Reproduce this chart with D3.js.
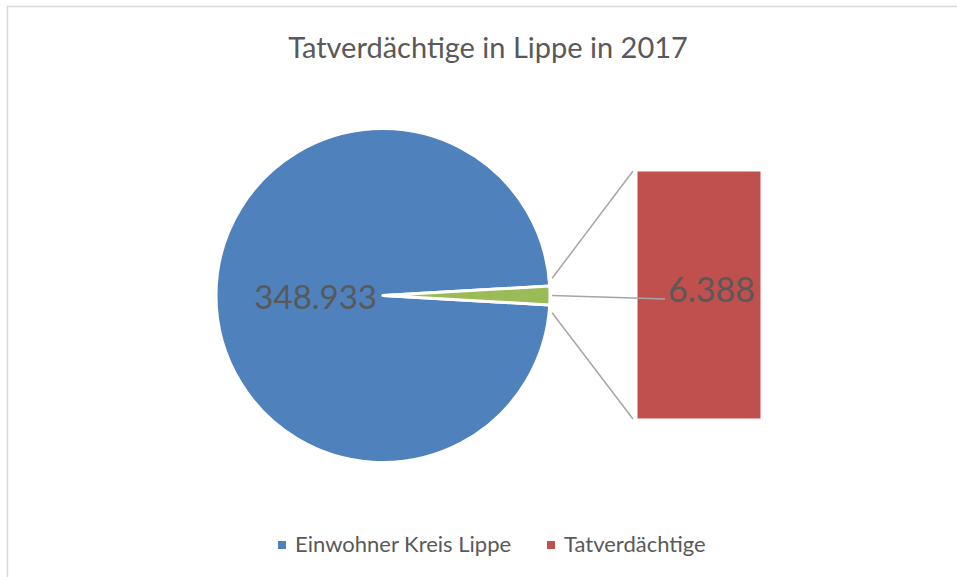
<!DOCTYPE html>
<html>
<head>
<meta charset="utf-8">
<script src="https://cdnjs.cloudflare.com/ajax/libs/d3/7.8.5/d3.min.js"></script>
<style>
    html, body { margin: 0; padding: 0; background: #fff; }
    svg { display: block; font-family: Lato, "Open Sans", sans-serif; }
</style>
</head>
<body>
<div id="chart"></div>
<script>
// data
var categories = ["Einwohner Kreis Lippe", "Tatverdächtige"];
var values = [348933, 6388];
var labels = ["348.933", "6.388"];
var title = "Tatverdächtige in Lippe in 2017";

var width = 957,
    height = 577;

var blue = "#4F81BD",
    red = "#C0504D",
    green = "#9BBB59",
    textColor = "#595959",
    lineColor = "#A6A6A6";

var svg = d3.select("#chart").append("svg")
    .attr("width", width)
    .attr("height", height);

// chart area border (runs off the right/bottom edge like the screenshot)
svg.append("rect")
    .attr("x", 7.5)
    .attr("y", 6.5)
    .attr("width", width + 20)
    .attr("height", height + 20)
    .attr("fill", "none")
    .attr("stroke", "#D9D9D9")
    .attr("stroke-width", 1.5);

svg.append("text")
    .attr("x", 488)
    .attr("y", 58)
    .attr("text-anchor", "middle")
    .style("font-size", "29px")
    .attr("fill", textColor)
    .text(title);

// primary pie: main value + "other" slice (green) centred at 3 o'clock
var cx = 383, cy = 295.5, r = 167;
var total = d3.sum(values);
var half = Math.PI * values[1] / total;

var pie = d3.pie()
    .sort(null)
    .startAngle(Math.PI / 2 + half)
    .endAngle(Math.PI / 2 + half + 2 * Math.PI);

var arcs = pie(values);
var arc = d3.arc().innerRadius(0).outerRadius(r);

var g = svg.append("g").attr("transform", "translate(" + cx + "," + cy + ")");

g.selectAll("path")
    .data(arcs)
    .enter().append("path")
    .attr("d", arc)
    .attr("fill", function (d, i) { return i == 0 ? blue : green; })
    .attr("stroke", "#fff")
    .attr("stroke-width", 3)
    .attr("stroke-linejoin", "round");

g.append("text")
    .attr("x", -6)
    .attr("y", 0)
    .attr("text-anchor", "end")
    .attr("dominant-baseline", "central")
    .style("font-size", "33px")
    .attr("fill", textColor)
    .text(labels[0]);

// secondary bar (the "other" slice broken out)
var barX = d3.scaleBand().domain([categories[1]]).range([637, 761]).padding(0);
var barY = d3.scaleLinear().domain([0, values[1]]).range([419, 171]);

svg.append("rect")
    .attr("x", barX(categories[1]))
    .attr("y", barY(values[1]))
    .attr("width", barX.bandwidth())
    .attr("height", barY(0) - barY(values[1]))
    .attr("fill", red)
    .attr("stroke", "#fff")
    .attr("stroke-width", 1);

// connector lines from the green slice to the bar corners
var topPt = [cx + (r + 3) * Math.cos(half + 0.045), cy - (r + 3) * Math.sin(half + 0.045)];
var botPt = [cx + (r + 3) * Math.cos(half + 0.045), cy + (r + 3) * Math.sin(half + 0.045)];

svg.append("line")
    .attr("x1", topPt[0]).attr("y1", topPt[1])
    .attr("x2", barX(categories[1]) - 4).attr("y2", barY(values[1]))
    .attr("stroke", lineColor).attr("stroke-width", 1.5);
svg.append("line")
    .attr("x1", botPt[0]).attr("y1", botPt[1])
    .attr("x2", barX(categories[1]) - 4).attr("y2", barY(0))
    .attr("stroke", lineColor).attr("stroke-width", 1.5);

// label for the green slice + leader line
var labX = 668, labY = 288;
svg.append("line")
    .attr("x1", cx + r + 2).attr("y1", cy)
    .attr("x2", labX - 3).attr("y2", labY + 11)
    .attr("stroke", lineColor).attr("stroke-width", 1.5);

svg.append("text")
    .attr("x", labX)
    .attr("y", labY)
    .attr("dominant-baseline", "central")
    .style("font-size", "34px")
    .attr("fill", textColor)
    .text(labels[1]);

// legend
var legendColors = [blue, red];
var legendX = [278, 547];
var legend = svg.append("g").selectAll("g")
    .data(categories)
    .enter().append("g")
    .attr("transform", function (d, i) { return "translate(" + legendX[i] + ",541)"; });

legend.append("rect")
    .attr("width", 8)
    .attr("height", 8)
    .attr("fill", function (d, i) { return legendColors[i]; });

legend.append("text")
    .attr("x", 17)
    .attr("y", 11)
    .style("font-size", "22px")
    .attr("fill", textColor)
    .text(function (d) { return d; });
</script>
</body>
</html>
